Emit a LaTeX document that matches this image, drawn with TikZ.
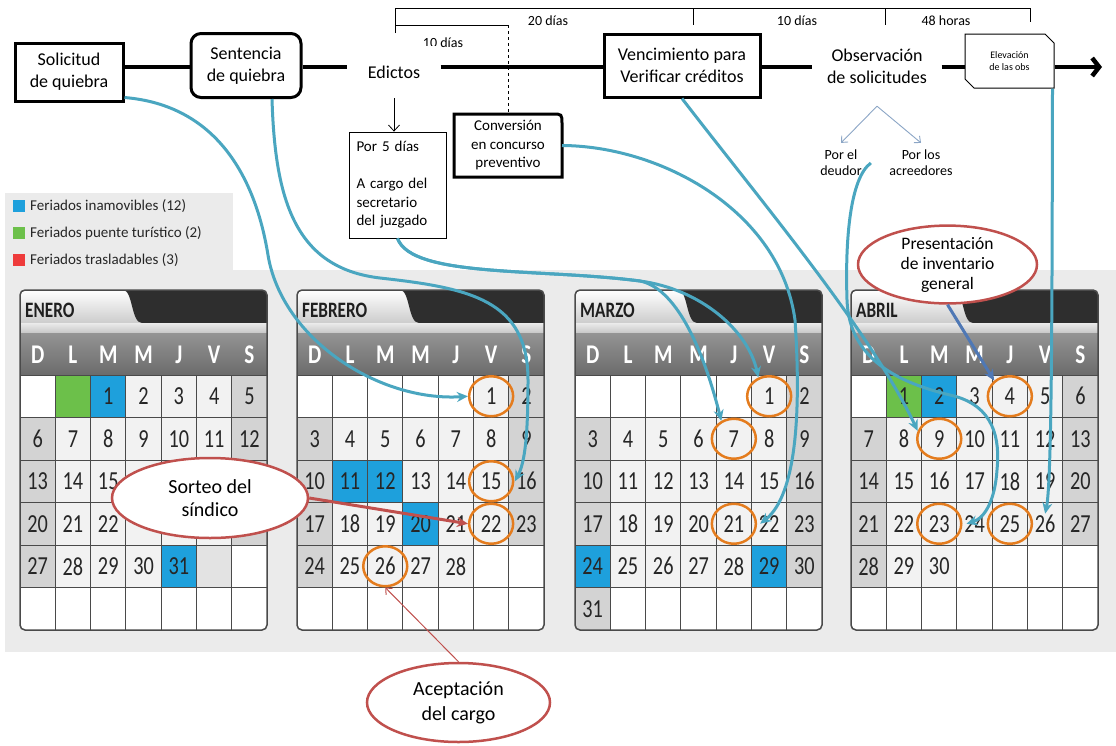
\documentclass[tikz,border=0pt]{standalone}
\usepackage{fontspec}
\setmainfont{Carlito}
\newfontfamily\condfont[FakeStretch=0.78]{Carlito}
\usetikzlibrary{arrows.meta,shapes.geometric,shapes.misc,calc}
\definecolor{tealc}{HTML}{4AA6C0}
\definecolor{redc}{HTML}{C0504D}
\definecolor{orangec}{HTML}{E47C1E}
\definecolor{holblue}{HTML}{1EA0DC}
\definecolor{holgreen}{HTML}{6CC04A}
\definecolor{legred}{HTML}{EE3B3B}
\definecolor{bandc}{HTML}{EBEBEB}
\definecolor{wkend}{HTML}{D3D3D3}
\definecolor{wkday}{HTML}{F2F2F2}
\definecolor{steelc}{HTML}{4F78B5}
\definecolor{smallarrc}{HTML}{8CA6C6}
\definecolor{tabdark}{HTML}{2E2E2E}
\definecolor{gridc}{HTML}{4A4A4A}

\expandafter\def\csname holA1\endcsname{holblue}
\expandafter\def\csname holA31\endcsname{holblue}
\expandafter\def\csname holB11\endcsname{holblue}
\expandafter\def\csname holB12\endcsname{holblue}
\expandafter\def\csname holB20\endcsname{holblue}
\expandafter\def\csname holC24\endcsname{holblue}
\expandafter\def\csname holC29\endcsname{holblue}
\expandafter\def\csname holD1\endcsname{holgreen}
\expandafter\def\csname holD2\endcsname{holblue}
% numbers hidden behind the "Sorteo" ellipse
\expandafter\def\csname skipA16\endcsname{}
\expandafter\def\csname skipA17\endcsname{}
\expandafter\def\csname skipA18\endcsname{}
\expandafter\def\csname skipA19\endcsname{}
\expandafter\def\csname skipA23\endcsname{}
\expandafter\def\csname skipA24\endcsname{}
\expandafter\def\csname skipA25\endcsname{}
\expandafter\def\csname skipA26\endcsname{}

\tikzset{
  mainbox/.style={draw, line width=3pt, fill=white, align=center, inner sep=0pt, font=\fontsize{18}{22}\selectfont},
  plaintext/.style={align=center, inner sep=0pt, font=\fontsize{18}{22}\selectfont},
  brlabel/.style={font=\fontsize{14}{16}\selectfont, inner sep=0pt},
  smalltxt/.style={align=center, inner sep=1pt, font=\fontsize{14}{16}\selectfont},
  ovalc/.style={ellipse, draw=redc, line width=2.5pt, fill=white, align=center, inner sep=0pt},
  legtext/.style={anchor=west, inner sep=0pt, font=\fontsize{15}{17}\selectfont, text=black!85},
  dayletter/.style={text=white, font=\condfont\bfseries\fontsize{27}{27}\selectfont, inner sep=0pt},
  daynum/.style={text=black!85, font=\condfont\fontsize{26}{26}\selectfont, inner sep=1pt},
  monthname/.style={anchor=west, inner sep=0pt, text=black!88, font=\condfont\bfseries\fontsize{22}{22}\selectfont},
  dcirc/.style={ellipse, draw=orangec, line width=2.5pt, minimum width=44pt, minimum height=40pt, inner sep=0pt},
  gridline/.style={draw=gridc, line width=1pt},
  tline/.style={line width=4.5pt},
  tconn/.style={draw=tealc, line width=3pt, -{Stealth[length=11pt,width=10pt]}},
  steelconn/.style={draw=steelc, line width=3pt, -{Stealth[length=11pt,width=10pt]}},
  redconn/.style={draw=redc, line width=3pt, -{Stealth[length=11pt,width=10pt]}},
  redthin/.style={draw=redc, line width=1pt, -{Straight Barb[length=5pt,width=9pt]}},
  smallarrow/.style={draw=smallarrc, line width=0.9pt, -{Straight Barb[length=5pt,width=9pt]}},
  elebox/.style={chamfered rectangle, chamfered rectangle corners={north east,south west}, chamfered rectangle sep=4.5pt, draw, line width=1pt, fill=white, minimum width=89pt, minimum height=54pt, inner sep=0pt, align=center, font=\fontsize{10}{12}\selectfont},
}

\newcommand\drawmonth[6]{%
\begin{scope}[shift={(#2,0)}]
  \begin{scope}
    \clip[rounded corners=5pt] (0,290) rectangle (247,630);
    \fill[white] (0,290) rectangle (247,630);
    \shade[top color=white, bottom color=black!20] (0,290) rectangle (247,323);
    \fill[tabdark] (103,290) .. controls (113,290) and (111,323) .. (122,323) -- (247,323) -- (247,290) -- cycle;
    \shade[top color=black!8, bottom color=black!22] (0,323) rectangle (247,333);
    \shade[top color=black!42, bottom color=black!58] (0,333) rectangle (247,375);
    \foreach \d in {1,...,#4}{%
      \pgfmathtruncatemacro\idx{#3+\d-1}%
      \pgfmathtruncatemacro\col{mod(\idx,7)}%
      \pgfmathtruncatemacro\row{div(\idx,7)}%
      \def\fc{wkday}%
      \ifnum\col=0 \def\fc{wkend}\fi
      \ifnum\col=6 \def\fc{wkend}\fi
      \ifcsname hol#1\d\endcsname\edef\fc{\csname hol#1\d\endcsname}\fi
      \fill[\fc] (\col*35.3,375+\row*42.5) rectangle ++(35.3,42.5);
    }
    #6
  \end{scope}
  \foreach \i in {1,...,6} \draw[gridline] (\i*35.3,375) -- (\i*35.3,630);
  \foreach \j in {0,...,5} \draw[gridline] (0,375+\j*42.5) -- (247,375+\j*42.5);
  \foreach \lt [count=\k from 0] in {D,L,M,M,J,V,S} \node[dayletter] at (\k*35.3+17.65,355) {\lt};
  \node[monthname] at (5,310) {#5};
  \foreach \d in {1,...,#4}{%
      \pgfmathtruncatemacro\idx{#3+\d-1}%
      \pgfmathtruncatemacro\col{mod(\idx,7)}%
      \pgfmathtruncatemacro\row{div(\idx,7)}%
      \ifcsname skip#1\d\endcsname\else
      \node[daynum] (#1-\d) at (\col*35.3+17.65,375+\row*42.5+21.25) {\d};
      \fi
  }
  \draw[draw=gridc, line width=1.5pt, rounded corners=5pt] (0,290) rectangle (247,630);
\end{scope}}

\begin{document}
\begin{tikzpicture}[x=1pt,y=-1pt]
\useasboundingbox (0,0) rectangle (1116,745);
\fill[white] (0,0) rectangle (1116,745);
\fill[bandc] (5,270) rectangle (1116,652);
\fill[bandc] (5,193) rectangle (233,270);

% legend
\fill[holblue] (13,200) rectangle (25,212);
\node[legtext] (lg1) at (30,206) {Feriados inamovibles (12)};
\fill[holgreen] (13,227) rectangle (25,239);
\node[legtext] (lg2) at (30,233) {Feriados puente turístico (2)};
\fill[legred] (13,254) rectangle (25,266);
\node[legtext] (lg3) at (30,260) {Feriados trasladables (3)};

% calendars
\drawmonth{A}{20}{2}{31}{ENERO}{\fill[holgreen] (35.3,375) rectangle ++(35.3,42.5); \fill[black!11] (5*35.3,375+4*42.5) rectangle ++(35.3,42.5);}
\drawmonth{B}{297}{5}{28}{FEBRERO}{}
\drawmonth{C}{575}{5}{31}{MARZO}{}
\drawmonth{D}{851}{1}{30}{ABRIL}{}

\foreach \n in {B-1,B-15,B-22,B-26,C-1,C-7,C-21,D-4,D-9,D-23,D-25}
  \node[dcirc] (c\n) at (\n) {};

% top bracket
\draw[line width=0.9pt] (395,33) -- (395,8) -- (1030,8) -- (1030,22);
\draw[line width=0.9pt] (693,8) -- (693,25);
\draw[line width=0.9pt] (885,8) -- (885,25);
\node[brlabel] (l20) at (548,21) {20 días};
\node[brlabel] (l10b) at (797,21) {10 días};
\node[brlabel] (l48) at (946,21) {48 horas};
\node[brlabel] (l10a) at (443,43) {10 días};

% timeline nodes
\coordinate (tl) at (0,67);
\node[mainbox, minimum width=108pt, minimum height=58pt] (sol) at (69,72) {Solicitud\\de quiebra};
\node[mainbox, rounded corners=10pt, minimum width=110pt, minimum height=64pt] (sen) at (246,65.5) {Sentencia\\de quiebra};
\node[plaintext, fill=white, minimum width=93pt, minimum height=52pt] (edi) at (394,72) {Edictos};
\node[mainbox, minimum width=156pt, minimum height=63pt] (ven) at (682,65.5) {Vencimiento para\\Verificar créditos};
\node[plaintext, fill=white, minimum width=129pt, minimum height=80pt] (obs) at (877,66) {Observación\\de solicitudes};
\node[elebox] (ele) at (1009.5,61) {Elevación\\de las obs};
\coordinate (tend) at (1102,67);

\draw[tline] (sol.east |- tl) -- (sen.west |- tl);
\draw[tline] (sen.east |- tl) -- (edi.west |- tl);
\draw[tline] (edi.east |- tl) -- (ven.west |- tl);
\draw[tline] (ven.east |- tl) -- (obs.west |- tl);
\draw[tline] (obs.east |- tl) -- (ele.west |- tl);
\draw[tline, -{Straight Barb[length=7pt,width=18pt]}] (ele.east |- tend) -- (tend);

% edictos box
\node[draw, line width=0.8pt, fill=white, minimum width=97pt, minimum height=106pt, text width=82pt, align=left, inner sep=0pt, font=\fontsize{15}{18.5}\selectfont] (p5) at (397.5,185) {Por 5 días\\[18.5pt]A cargo del\\secretario\\del juzgado};
\draw[line width=0.8pt, -{Straight Barb[length=6pt,width=11pt]}] (edi.south) -- (edi.south |- p5.north);

% conversion box
\node[minimum width=108pt, minimum height=63pt, inner sep=0pt, outer sep=0pt, align=center, font=\fontsize{15}{18.5}\selectfont] (con) at (508,145.5) {Conversión\\en concurso\\preventivo};
\draw[line width=3pt] (con.south west) -- (con.north west) -- ([xshift=-10pt]con.north east) .. controls (con.north east) .. ([yshift=-10pt]con.north east) -- (con.south east) -- cycle;
\draw[line width=0.9pt] (395,25) -- (con.north |- 0,25);
\draw[line width=0.9pt, dashed] (con.north |- 0,25) -- (con.north);

% observation split
\node[smalltxt] (deu) at (841,163) {Por el\\deudor};
\node[smalltxt] (acr) at (921,163) {Por los\\acreedores};
\draw[smallarrow] (obs.south) -- ([yshift=6pt]deu.north);
\draw[smallarrow] (obs.south) -- ([yshift=6pt]acr.north);

% ellipses
\node[ovalc, minimum width=196pt, minimum height=80pt, font=\fontsize{20}{23}\selectfont] (sor) at (210,498) {Sorteo del\\síndico};
\node[ovalc, minimum width=183pt, minimum height=79pt, font=\fontsize{20}{25}\selectfont] (ace) at (458.5,702.5) {Aceptación\\del cargo};
\node[ovalc, minimum width=179pt, minimum height=65pt, font=\fontsize{17.5}{20}\selectfont] (pre) at (947.5,264.5) {Presentación\\de inventario\\general};

% connectors
\draw[tconn] ([yshift=5pt]sol.south east) .. controls (215,105) and (255,175) .. (268,255) .. controls (282,340) and (380,402) .. (cB-1.west);
\draw[tconn] ([xshift=26pt]sen.south) .. controls (275,200) and (295,268) .. (380,278) .. controls (470,288) and (528,300) .. (528,380) .. controls (528,435) and (525,462) .. (B-16.west);
\draw[tconn] (p5.south) .. controls (412,278) and (540,268) .. (640,281) .. controls (700,289) and (748,330) .. (cC-1.120);
\draw[tconn] (p5.south) .. controls (412,278) and (540,268) .. (640,281) .. controls (675,288) and (702,345) .. (cC-7.125);
\draw[tconn] (con.east) .. controls (660,146) and (780,210) .. (795,320) .. controls (801,410) and (797,495) .. ([xshift=3pt]cC-21.east);
\draw[tconn] (ven.south) .. controls (760,200) and (870,330) .. (cD-9.160);
\draw[tconn] ([xshift=8pt]deu.east) .. controls (850,178) and (845,240) .. (847,300) .. controls (849,360) and (900,383) .. (950,395) .. controls (995,405) and (1000,440) .. (997,470) .. controls (995,500) and (985,518) .. ([xshift=4pt]cD-23.east);
\draw[tconn] ([xshift=-2pt]ele.south east) .. controls (1052,300) and (1052,480) .. (D-26.north);
\draw[steelconn] (pre.south) -- (cD-4.135);
\draw[redconn] (sor.east) -- (cB-22.west);
\draw[redthin] (ace.north) -- (cB-26.south);
\end{tikzpicture}
\end{document}
